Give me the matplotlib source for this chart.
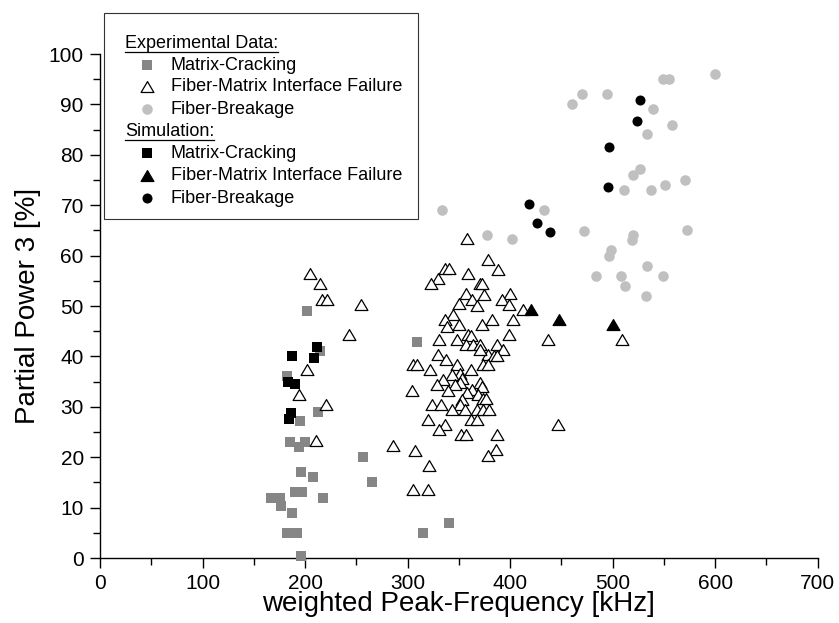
import matplotlib
matplotlib.use("Agg")
import matplotlib.pyplot as plt
from matplotlib.path import Path
from matplotlib.patches import Rectangle

plt.rcParams['font.family'] = ['Liberation Sans', 'DejaVu Sans']

# ---- Experimental data: matrix cracking (grey squares) ----
mc_exp_f = [201.6, 214.6, 182.1, 212.4, 195.0, 185.4, 200.0, 194.4, 256.3, 196.1,
            207.5, 265.0, 190.2, 196.8, 217.9, 176.0, 167.0, 176.5, 187.0, 182.1,
            192.5, 315.4, 340.0, 195.8, 309.0]
mc_exp_p = [49.1, 41.1, 36.1, 29.0, 27.2, 23.1, 23.1, 22.1, 20.0, 17.0,
            16.0, 15.0, 13.0, 13.0, 12.0, 12.0, 12.0, 10.3, 9.0, 4.9,
            4.9, 4.9, 7.0, 0.3, 42.9]

# ---- Experimental data: fiber-matrix interface failure (open triangles) ----
fm_exp_f = [204.9, 214.6, 216.3, 221.2, 254.3, 243.2, 202.3, 194.1, 220.5, 210.7,
            286.2, 307.3, 305.7, 320.3, 321.0, 304.7, 305.0, 309.6, 322.0,
            357.7, 378.1, 336.6, 340.8, 388.0, 358.7, 330.0, 322.6, 370.7, 373.0,
            357.0, 375.0, 400.0, 392.0, 362.6, 350.6, 399.3, 368.0, 413.0, 344.7,
            336.6, 382.1, 403.3, 350.6, 338.8, 372.4, 359.3, 361.6, 399.3, 331.0,
            348.0, 436.7, 357.0, 364.2, 370.7, 387.0, 393.5, 378.9, 370.7, 330.0,
            384.0, 387.0, 337.6, 348.0, 374.0, 378.9, 361.6, 351.2, 343.0, 352.8,
            335.0, 370.7, 328.5, 351.0, 346.0, 372.4, 339.8, 363.0, 358.0, 369.0,
            373.5, 376.0, 352.8, 323.6, 332.4, 351.2, 367.5, 374.0, 379.8, 343.0,
            356.0, 320.3, 336.6, 331.0, 361.6, 367.5, 447.1, 352.2, 356.8, 387.0,
            386.3, 378.0, 509.0]
fm_exp_p = [56.3, 54.3, 51.2, 51.2, 50.2, 44.2, 37.3, 32.3, 30.3, 23.2,
            22.3, 21.3, 13.4, 13.4, 18.3, 33.2, 38.3, 38.3, 37.3,
            63.3, 59.1, 57.3, 57.3, 57.1, 56.3, 55.3, 54.3, 54.4, 54.4,
            52.4, 52.2, 52.4, 51.2, 51.2, 50.3, 50.2, 50.0, 49.2, 48.2,
            47.2, 47.2, 47.2, 46.2, 45.9, 46.2, 44.2, 44.0, 44.2, 43.3,
            43.3, 43.3, 42.3, 42.3, 42.3, 42.3, 41.3, 40.3, 41.3, 40.3,
            40.0, 40.0, 39.3, 38.3, 38.3, 38.3, 37.3, 36.6, 36.3, 35.6,
            35.3, 34.7, 34.3, 34.7, 34.3, 34.0, 33.2, 33.3, 32.7, 32.3,
            31.5, 31.5, 31.3, 30.4, 30.4, 30.4, 29.4, 29.4, 29.4, 29.4,
            29.4, 27.4, 26.4, 25.4, 27.4, 27.4, 26.4, 24.4, 24.4, 24.4,
            21.5, 20.2, 43.3]

# ---- Experimental data: fiber breakage (light grey circles) ----
fb_exp_f = [600.0, 549.6, 554.5, 470.0, 494.3, 460.2, 539.8, 557.7, 533.3, 526.8,
            519.7, 511.2, 537.2, 551.5, 570.7, 573.0, 519.7, 519.0, 498.2, 496.0,
            533.3, 508.0, 483.9, 549.6, 512.2, 532.3, 334.0, 433.5, 471.9, 377.9,
            401.6]
fb_exp_p = [96.0, 95.0, 95.0, 92.1, 92.1, 90.1, 89.0, 86.0, 84.1, 77.1,
            76.0, 73.0, 73.0, 74.0, 75.0, 65.1, 64.1, 63.0, 61.1, 60.0,
            57.9, 56.0, 56.0, 56.0, 54.0, 52.0, 69.0, 69.0, 64.9, 64.1,
            63.2]

# ---- Simulation results ----
mc_sim_f = [187.0, 208.8, 211.4, 183.7, 190.2, 186.0, 184.0]
mc_sim_p = [40.1, 39.6, 41.8, 35.0, 34.5, 28.8, 27.6]

fm_sim_f = [420.2, 447.5, 500.2]
fm_sim_p = [49.2, 47.2, 46.2]

fb_sim_f = [418.9, 426.0, 438.7, 495.0, 496.0, 524.2, 526.8]
fb_sim_p = [70.2, 66.5, 64.7, 73.7, 81.5, 86.7, 90.9]

# equilateral-looking triangle marker
tri = Path([(-1.0, -0.78), (1.0, -0.78), (0.0, 0.92), (-1.0, -0.78)],
           [Path.MOVETO, Path.LINETO, Path.LINETO, Path.CLOSEPOLY])

GREY_SQ = '#868686'
GREY_CI = '#c0c0c0'

SQ_S = 46
CI_S = 58
TRI_S = 85

W, H = 839, 623
fig = plt.figure(figsize=(W / 100, H / 100), dpi=100)
ax = fig.add_axes([100 / W, 65 / H, 717.7 / W, 504 / H])

ax.scatter(mc_exp_f, mc_exp_p, marker='s', s=SQ_S, c=GREY_SQ, linewidths=0,
           clip_on=False, zorder=3)
ax.scatter(fm_exp_f, fm_exp_p, marker=tri, s=TRI_S, facecolors='white',
           edgecolors='black', linewidths=0.9, clip_on=False, zorder=4)
ax.scatter(fb_exp_f, fb_exp_p, marker='o', s=CI_S, c=GREY_CI, linewidths=0,
           clip_on=False, zorder=3)
ax.scatter(mc_sim_f, mc_sim_p, marker='s', s=SQ_S, c='black', linewidths=0,
           clip_on=False, zorder=5)
ax.scatter(fm_sim_f, fm_sim_p, marker=tri, s=TRI_S, c='black', linewidths=0.9,
           edgecolors='black', clip_on=False, zorder=5)
ax.scatter(fb_sim_f, fb_sim_p, marker='o', s=CI_S * 0.9, c='black', linewidths=0,
           clip_on=False, zorder=5)

ax.set_xlim(0, 700)
ax.set_ylim(0, 100)
ax.set_xticks(range(0, 701, 100))
ax.set_yticks(range(0, 101, 10))
ax.set_xticks(range(50, 700, 100), minor=True)
ax.set_yticks(range(5, 100, 10), minor=True)
for side in ('top', 'right'):
    ax.spines[side].set_visible(False)
for side in ('left', 'bottom'):
    ax.spines[side].set_linewidth(1.0)
ax.tick_params(which='major', direction='out', length=7.2, width=1.0,
               labelsize=15, pad=4.5)
ax.tick_params(which='minor', direction='out', length=4.8, width=1.0)

ax.set_xlabel('weighted Peak-Frequency [kHz]', fontsize=20)
ax.xaxis.set_label_coords(0.5, -0.066)
ax.set_ylabel('Partial Power 3 [%]', fontsize=20)
ax.yaxis.set_label_coords(-0.082, 0.5)

# ---- legend panel drawn in pixel coordinates ----
lax = fig.add_axes([0, 0, 1, 1], zorder=10)
lax.set_xlim(0, W)
lax.set_ylim(H, 0)
lax.axis('off')
lax.add_patch(Rectangle((104, 13), 314, 206, facecolor='white',
                        edgecolor='#333333', linewidth=0.8))

rows = [43.3, 65.0, 86.7, 109.0, 131.7, 153.3, 175.7, 198.3]
mx, tx, hx = 146.7, 171, 125
fs = 13

headers = [(rows[0], 'Experimental Data:'), (rows[4], 'Simulation:')]
entries = [
    (rows[1], dict(marker='s', s=SQ_S, c=GREY_SQ, linewidths=0), 'Matrix-Cracking'),
    (rows[2], dict(marker=tri, s=TRI_S, facecolors='white', edgecolors='black',
                   linewidths=0.9), 'Fiber-Matrix Interface Failure'),
    (rows[3], dict(marker='o', s=CI_S, c=GREY_CI, linewidths=0), 'Fiber-Breakage'),
    (rows[5], dict(marker='s', s=SQ_S, c='black', linewidths=0), 'Matrix-Cracking'),
    (rows[6], dict(marker=tri, s=TRI_S, c='black', edgecolors='black',
                   linewidths=0.9), 'Fiber-Matrix Interface Failure'),
    (rows[7], dict(marker='o', s=CI_S * 0.9, c='black', linewidths=0), 'Fiber-Breakage'),
]

header_texts = []
for y, label in headers:
    t = lax.text(hx, y, label, fontsize=fs, ha='left', va='center')
    header_texts.append(t)
for y, style, label in entries:
    lax.scatter([mx], [y], **style)
    lax.text(tx, y, label, fontsize=fs, ha='left', va='center')

# underline the two section headers
fig.canvas.draw()
renderer = fig.canvas.get_renderer()
inv = lax.transData.inverted()
for t in header_texts:
    bb = t.get_window_extent(renderer)
    (x0, _), (x1, _) = inv.transform([(bb.x0, bb.y0), (bb.x1, bb.y0)])
    yb = t.get_position()[1] + 8.3
    lax.plot([x0, x1], [yb, yb], color='black', linewidth=0.9)

fig.savefig('out.png', dpi=100)
